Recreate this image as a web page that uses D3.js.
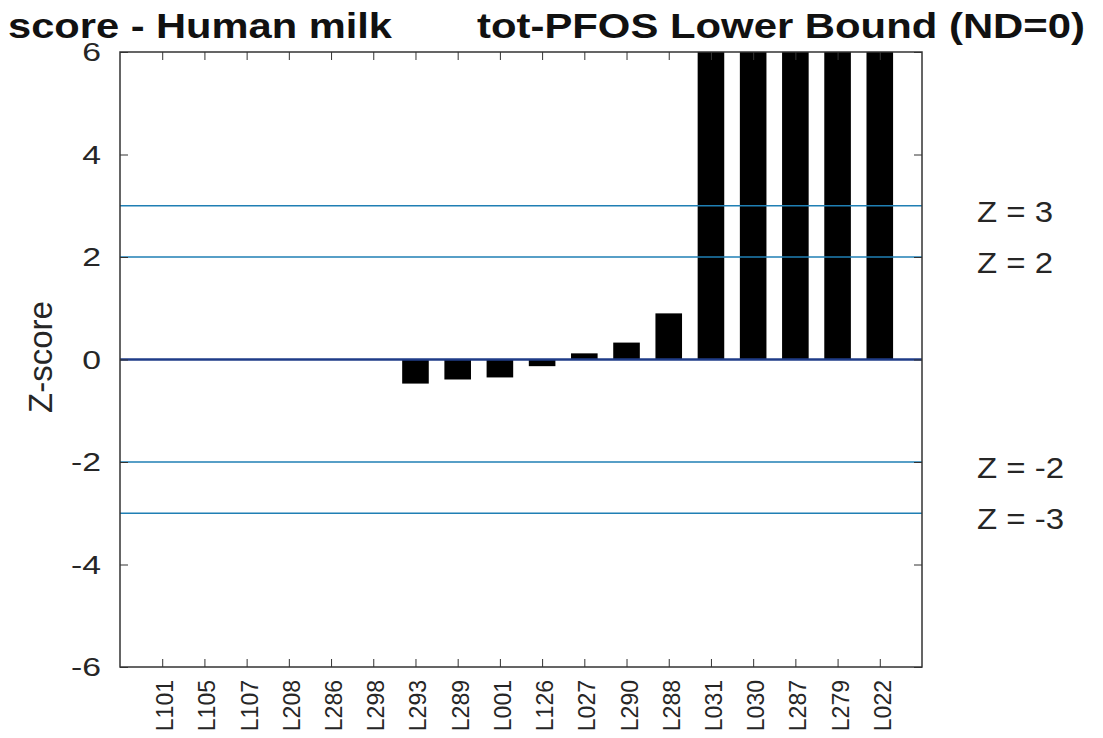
<!DOCTYPE html>
<html><head><meta charset="utf-8">
<script src="https://cdn.jsdelivr.net/npm/d3@7"></script>
<style>body{margin:0;background:#fff;} text{font-family:"Liberation Sans",Arial,sans-serif;}</style>
</head><body>
<svg id="c" width="1103" height="738"></svg>
<script>
const labs = ["L101","L105","L107","L208","L286","L298","L293","L289","L001","L126","L027","L290","L288","L031","L030","L287","L279","L022"];
const zvals = [0,0,0,0,0,0,-0.47,-0.39,-0.35,-0.13,0.12,0.33,0.9,8.5,9.2,10.4,12.1,15.3];
const yTicks = [-6,-4,-2,0,2,4,6];
const refLines = [3,2,-2,-3];
const refLabels = ["Z = 3","Z = 2","Z = -2","Z = -3"];

const svg = d3.select("#c");
const L=120,R=922,T=52,B=667;
const x = d3.scaleLinear().domain([0,labs.length+1]).range([L,R]);
const y = d3.scaleLinear().domain([-6,6]).range([B,T]);
const bw = 0.63*(x(1)-x(0));

svg.append("clipPath").attr("id","pc").append("rect").attr("x",L).attr("y",T).attr("width",R-L).attr("height",B-T);

const g = svg.append("g").attr("clip-path","url(#pc)");
g.selectAll("rect.bar").data(zvals).join("rect").attr("class","bar")
 .attr("x",(d,i)=>x(i+1)-bw/2).attr("width",bw)
 .attr("y",d=>y(Math.max(d,0))).attr("height",d=>Math.abs(y(d)-y(0)))
 .attr("fill","#000");

g.selectAll("line.ref").data(refLines).join("line").attr("class","ref")
 .attr("x1",L).attr("x2",R).attr("y1",d=>y(d)).attr("y2",d=>y(d))
 .attr("stroke","#1f7fb4").attr("stroke-width",1.7);
g.append("line").attr("x1",L).attr("x2",R).attr("y1",y(0)).attr("y2",y(0))
 .attr("stroke","#1f3c88").attr("stroke-width",2.4);

// axes (ticks inward, MATLAB-style box)
const tickVals = d3.range(1,labs.length+1);
const xa = svg.append("g").attr("transform",`translate(0,${B})`)
 .call(d3.axisBottom(x).tickValues(tickVals).tickSize(-8).tickFormat(""));
const xt = svg.append("g").attr("transform",`translate(0,${T})`)
 .call(d3.axisTop(x).tickValues(tickVals).tickSize(-8).tickFormat(""));
const ya = svg.append("g").attr("transform",`translate(${L},0)`)
 .call(d3.axisLeft(y).tickValues(yTicks).tickSize(-8).tickFormat(""));
const yr = svg.append("g").attr("transform",`translate(${R},0)`)
 .call(d3.axisRight(y).tickValues(yTicks).tickSize(-8).tickFormat(""));
[xa,xt,ya,yr].forEach(a=>{a.selectAll(".domain").remove();a.selectAll("line").attr("stroke","#333");});
svg.append("rect").attr("x",L).attr("y",T).attr("width",R-L).attr("height",B-T)
 .attr("fill","none").attr("stroke","#333").attr("stroke-width",1.5);

// y tick labels (hyphen minus, slightly wide glyphs)
svg.selectAll("text.yl").data(yTicks).join("text").attr("class","yl")
 .attr("transform",d=>`translate(101,${y(d)+9}) scale(1.35,1)`)
 .attr("text-anchor","end").attr("font-size",25).attr("fill","#262626").text(d=>String(d));

svg.selectAll("text.xl").data(labs).join("text").attr("class","xl")
 .attr("transform",(d,i)=>`translate(${x(i+1)+11},680) rotate(-90)`)
 .attr("text-anchor","end").attr("font-size",23).attr("fill","#262626").text(d=>d);

svg.append("text").attr("transform",`translate(52,357) rotate(-90)`)
 .attr("text-anchor","middle").attr("font-size",33).attr("fill","#262626").text("Z-score");

svg.selectAll("text.rl").data(refLabels).join("text").attr("class","rl")
 .attr("transform",(d,i)=>`translate(977,${y(refLines[i])+16}) scale(1.1,1)`)
 .attr("font-size",30).attr("fill","#262626").text(d=>d);

svg.append("text").attr("x",8).attr("y",38).attr("font-size",35).attr("font-weight","bold").attr("fill","#111")
 .attr("textLength",384).attr("lengthAdjust","spacingAndGlyphs").text("score - Human milk");
svg.append("text").attr("x",477).attr("y",38).attr("font-size",35).attr("font-weight","bold").attr("fill","#111")
 .attr("textLength",608).attr("lengthAdjust","spacingAndGlyphs").text("tot-PFOS Lower Bound (ND=0)");
</script>
</body></html>
